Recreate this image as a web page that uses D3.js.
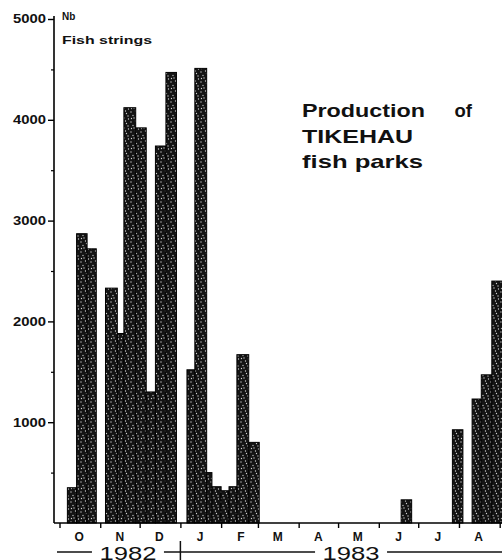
<!DOCTYPE html>
<html>
<head>
<meta charset="utf-8">
<script src="https://cdn.jsdelivr.net/npm/d3@7"></script>
<style>
  body { margin: 0; background: #fff; }
  text { font-family: "Liberation Sans", Arial, sans-serif; fill: #111; }
</style>
</head>
<body>
<div id="chart"></div>
<script>
const WIDTH = 502;
const HEIGHT = 560;

// sampling periods (start / end) and number of fish strings produced
const periodStart = [
    "1982-10-07", "1982-10-14", "1982-10-22", "1982-11-05", "1982-11-14", "1982-11-19",
    "1982-11-28", "1982-12-06", "1982-12-13", "1982-12-21", "1983-01-06", "1983-01-12",
    "1983-01-21", "1983-01-25", "1983-02-01", "1983-02-07", "1983-02-13", "1983-02-22",
    "1983-06-18", "1983-07-27", "1983-08-11", "1983-08-18", "1983-08-26",
];
const periodEnd = [
    "1982-10-14", "1982-10-22", "1982-10-29", "1982-11-14", "1982-11-19", "1982-11-28",
    "1982-12-06", "1982-12-13", "1982-12-21", "1982-12-29", "1983-01-12", "1983-01-21",
    "1983-01-25", "1983-02-01", "1983-02-07", "1983-02-13", "1983-02-22", "1983-03-02",
    "1983-06-26", "1983-08-04", "1983-08-18", "1983-08-26", "1983-09-03",
];
const fishStrings = [
    350, 2870, 2720, 2330, 1880, 4120,
    3920, 1300, 3740, 4470, 1520, 4510,
    500, 360, 320, 360, 1670, 800,
    230, 925, 1230, 1470, 2400,
];

const monthLabels = ["O", "N", "D", "J", "F", "M", "A", "M", "J", "J", "A"];
const yearLabels = ["1982", "1983"];
const yTicks = [1000, 2000, 3000, 4000, 5000];
const yMinorTicks = [500, 1500, 2500, 3500, 4500];
const titleLines = ["Production", "TIKEHAU", "fish parks"];

const parse = d3.timeParse("%Y-%m-%d");
const data = fishStrings.map((v, i) => ({
    start: parse(periodStart[i]),
    end: parse(periodEnd[i]),
    value: v,
}));

const AXIS_X = 54;
const BASE_Y = 523;

const x = d3.scaleTime()
    .domain([new Date(1982, 9, 1), new Date(1983, 8, 1)])
    .range([59.5, 499.7]);
const y = d3.scaleLinear().domain([0, 5000]).range([BASE_Y, 19]);

const svg = d3.select("#chart")
    .append("svg")
    .attr("width", WIDTH)
    .attr("height", HEIGHT);

// stippled fill like the printed bars
const pat = svg.append("defs").append("pattern")
    .attr("id", "stipple")
    .attr("patternUnits", "userSpaceOnUse")
    .attr("width", 10)
    .attr("height", 10);
pat.append("rect").attr("width", 10).attr("height", 10).attr("fill", "#131313");
[[1, 2], [5.5, 1], [3, 5.5], [8, 6], [1.5, 8.5], [6.5, 3.5], [8.5, 9], [4, 8]].forEach(p => {
    pat.append("circle").attr("cx", p[0]).attr("cy", p[1]).attr("r", 0.65)
        .attr("fill", "#fff").attr("opacity", 0.8);
});

// bars
svg.append("g")
    .selectAll(".bar")
    .data(data)
    .join("rect")
    .attr("class", "bar")
    .attr("x", d => x(d.start))
    .attr("width", d => x(d.end) - x(d.start))
    .attr("y", d => y(d.value))
    .attr("height", d => BASE_Y - y(d.value))
    .attr("fill", "url(#stipple)")
    .attr("stroke", "#000")
    .attr("stroke-width", 1);

// y axis
const yAxis = svg.append("g")
    .attr("transform", `translate(${AXIS_X},0)`)
    .call(d3.axisLeft(y).tickValues(yTicks).tickSize(6).tickSizeOuter(0).tickPadding(2)
        .tickFormat(d3.format("d")));
yAxis.select(".domain").attr("stroke-width", 1.6).attr("d", `M0,${y(5000) - 3}V${BASE_Y}`);
yAxis.selectAll(".tick line").attr("stroke-width", 1.4);
yAxis.selectAll(".tick text")
    .attr("textLength", 33)
    .attr("lengthAdjust", "spacingAndGlyphs")
    .style("font-size", "12px")
    .style("font-weight", "bold")
    .style("fill", "#111");

svg.append("g")
    .attr("transform", `translate(${AXIS_X},0)`)
    .call(d3.axisLeft(y).tickValues(yMinorTicks).tickSize(3).tickFormat(""))
    .call(g => g.select(".domain").remove())
    .selectAll(".tick line").attr("stroke-width", 1.2);

// x baseline with month ticks
const xAxis = svg.append("g")
    .attr("transform", `translate(0,${BASE_Y})`)
    .call(d3.axisBottom(x).ticks(d3.timeMonth.every(1)).tickSize(5).tickSizeOuter(0).tickFormat(""));
xAxis.select(".domain").attr("stroke-width", 1.6).attr("d", `M${AXIS_X},0H${WIDTH}`);
xAxis.selectAll(".tick line").attr("stroke-width", 1.4);

const months = d3.timeMonth.range(x.domain()[0], x.domain()[1]);
svg.append("g")
    .selectAll("text")
    .data(months)
    .join("text")
    .attr("x", d => x(new Date(d.getFullYear(), d.getMonth(), 16)))
    .attr("y", 541)
    .attr("text-anchor", "middle")
    .style("font-size", "12px")
    .style("font-weight", "bold")
    .text((d, i) => monthLabels[i]);

// year band under the months
const YEAR_Y = 552;
const newYear = x(new Date(1983, 0, 1));
svg.append("line")
    .attr("x1", AXIS_X + 3).attr("x2", WIDTH)
    .attr("y1", YEAR_Y).attr("y2", YEAR_Y)
    .attr("stroke", "#111").attr("stroke-width", 1.5);
svg.append("line")
    .attr("x1", newYear).attr("x2", newYear)
    .attr("y1", 541).attr("y2", HEIGHT)
    .attr("stroke", "#111").attr("stroke-width", 1.5);

const yearSpans = [[x.range()[0], newYear], [newYear, x.range()[1]]];
yearLabels.forEach((lab, i) => {
    const cx = (yearSpans[i][0] + yearSpans[i][1]) / 2 + 8 + i * 3;
    svg.append("rect")
        .attr("x", cx - 36).attr("y", YEAR_Y - 8)
        .attr("width", 72).attr("height", 16)
        .attr("fill", "#fff");
    svg.append("text")
        .attr("x", cx - 28.5)
        .attr("y", 559.5)
        .attr("textLength", 57)
        .attr("lengthAdjust", "spacingAndGlyphs")
        .style("font-size", "18.5px")
        .text(lab);
});

// axis title
svg.append("text")
    .attr("x", 62).attr("y", 20)
    .style("font-size", "10px").style("font-weight", "bold")
    .text("Nb");
svg.append("text")
    .attr("x", 62).attr("y", 44)
    .attr("textLength", 90)
    .attr("lengthAdjust", "spacingAndGlyphs")
    .style("font-size", "11.5px").style("font-weight", "bold")
    .text("Fish strings");

// chart title
const title = svg.append("g").style("font-size", "18.5px").style("font-weight", "bold");
const titleLen = [123, 111, 121];
titleLines.forEach((t, i) => {
    title.append("text")
        .attr("x", 302)
        .attr("y", 117 + i * 25.5)
        .attr("textLength", titleLen[i])
        .attr("lengthAdjust", "spacingAndGlyphs")
        .text(t);
});
title.append("text")
    .attr("x", 472).attr("y", 117)
    .attr("text-anchor", "end")
    .text("of");
</script>
</body>
</html>
